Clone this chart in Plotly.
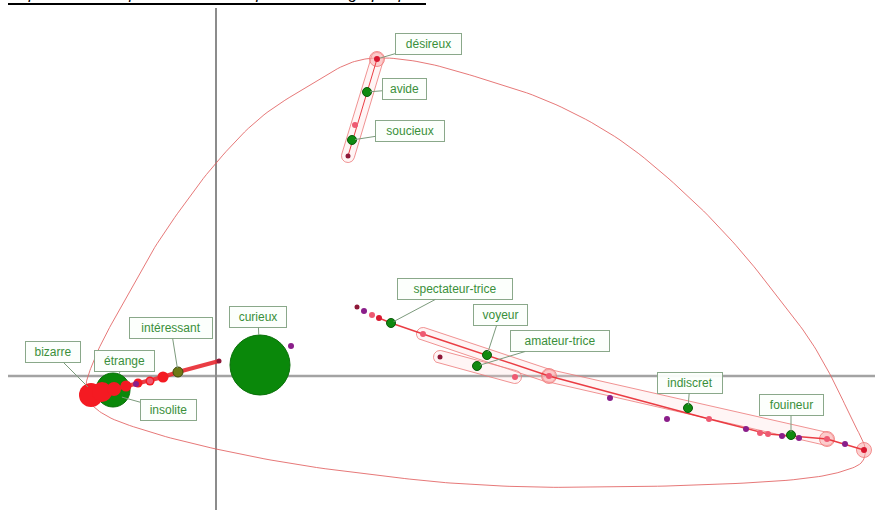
import numpy as np
import plotly.graph_objects as go

# ---- factor-map coordinates (axis units) ----
label_names = ["désireux", "avide", "soucieux", "spectateur-trice", "voyeur",
               "amateur-trice", "indiscret", "fouineur", "curieux",
               "intéressant", "étrange", "bizarre", "insolite"]
label_x = [1.61, 1.51, 1.36, 1.75, 2.71, 2.61, 4.72, 5.75, 0.44, -0.38, -1.03, -1.21, -0.98]
label_y = [3.17, 2.84, 2.36, 0.53, 0.21, 0.10, -0.32, -0.59, 0.11, 0.04, -0.14, -0.18, -0.20]

# small green synonym points
green_names = ["avide", "soucieux", "spectateur-trice", "voyeur", "amateur-trice",
               "indiscret", "fouineur"]
# weighted nodes
big_names = ["curieux", "étrange"]
big_size = [60, 34]

# unlabelled clique points
pink_x = [1.39, 1.56, 2.07, 2.99, 3.33, 4.93, 5.44, 5.52, 6.11, -0.66]
pink_y = [2.51, 0.61, 0.42, -0.01, 0.00, -0.43, -0.57, -0.58, -0.63, -0.05]
purple_x = [1.48, 3.94, 4.51, 5.30, 5.66, 5.83, 6.29, 0.75, -0.80]
purple_y = [0.65, -0.22, -0.43, -0.53, -0.60, -0.62, -0.68, 0.30, -0.08]
darkred_x = [1.32, 1.41, 2.24, 0.03]
darkred_y = [2.20, 0.69, 0.19, 0.15]
red_x = [1.61, 1.63, 6.48]
red_y = [3.17, 0.58, -0.74]
halo_x = [1.61, 3.33, 6.11, 6.48]
halo_y = [3.17, 0.00, -0.63, -0.74]

# chain bizarre -> intéressant
chain_x = [-1.25, -1.14, -1.02, -0.90, -0.78, -0.66, -0.53]
chain_y = [-0.19, -0.16, -0.13, -0.10, -0.07, -0.05, -0.01]
chain_size = [24, 20, 14, 11, 9, 9, 11]

# linking paths
link_left_x = [-1.25, -0.53, -0.38, 0.03]
link_left_y = [-0.19, -0.01, 0.04, 0.15]
link_right_x = [1.63, 1.75, 2.07, 2.71, 3.33, 4.93, 5.52, 6.11, 6.48]
link_right_y = [0.58, 0.53, 0.42, 0.21, 0.00, -0.43, -0.58, -0.63, -0.74]
link_top_x = [1.61, 1.32]
link_top_y = [3.17, 2.20]

# cliques (segment end points)
clique_x0 = [1.61, 2.07, 3.33, 2.24]
clique_y0 = [3.17, 0.42, 0.00, 0.19]
clique_x1 = [1.32, 3.33, 6.11, 2.99]
clique_y1 = [2.20, 0.00, -0.63, -0.01]

# outer envelope of the semantic space (closed loop, control points)
hull_x = [1.60, 2.04, 2.64, 3.34, 4.04, 4.74, 5.24, 5.64, 5.94, 6.17, 6.36, 6.49,
          6.46, 6.24, 5.84, 4.84, 3.84, 3.14, 2.34, 1.84, 0.84, 0.00, -0.66, -1.11,
          -1.28, -1.30, -1.24, -1.13, -0.91, -0.66, -0.36, 0.00, 0.44, 0.94, 1.34]
hull_y = [3.18, 3.14, 2.98, 2.74, 2.36, 1.78, 1.26, 0.76, 0.36, -0.04, -0.44, -0.72,
          -0.86, -0.96, -1.03, -1.09, -1.11, -1.11, -1.07, -1.02, -0.89, -0.73, -0.56, -0.39,
          -0.24, -0.09, 0.11, 0.36, 0.76, 1.21, 1.66, 2.13, 2.58, 2.91, 3.13]

# label box offsets (pixels from the point)
label_ax = [51, 37, 58, 64, 13, 83, 2, 0, -2, -7, 11, -42, 50]
label_ay = [-15, -3, -9, -34, -40, -25, -25, -30, -48, -44, -29, -42, 14]
label_standoff = [3, 3, 3, 3, 3, 3, 3, 3, 30, 4, 17, 10, 4]

W, H = 875, 510
X_RANGE = [-2.16, 6.59]
Y_RANGE = [-1.34, 3.76]

# approximate advance widths (px at 12px sans) used to size label boxes
_CW = {"f": 3.3, "i": 2.7, "l": 2.7, "t": 3.3, "r": 4.0, "-": 4.0, "m": 10.0,
       "c": 6.0, "s": 6.0, "v": 6.0, "x": 6.0, "y": 6.0, "z": 6.0}


def text_px(s):
    return sum(_CW.get(ch, 6.7) for ch in s)


def closed_catmull_rom(xs, ys, n=12, alpha=0.5):
    """Centripetal Catmull-Rom curve through a closed list of points."""
    P = np.column_stack([xs, ys]).astype(float)
    m = len(P)
    out = []
    for i in range(m):
        p0, p1, p2, p3 = P[(i - 1) % m], P[i], P[(i + 1) % m], P[(i + 2) % m]
        t0 = 0.0
        t1 = t0 + np.linalg.norm(p1 - p0) ** alpha
        t2 = t1 + np.linalg.norm(p2 - p1) ** alpha
        t3 = t2 + np.linalg.norm(p3 - p2) ** alpha
        for t in np.linspace(t1, t2, n, endpoint=False):
            a1 = (t1 - t) / (t1 - t0) * p0 + (t - t0) / (t1 - t0) * p1
            a2 = (t2 - t) / (t2 - t1) * p1 + (t - t1) / (t2 - t1) * p2
            a3 = (t3 - t) / (t3 - t2) * p2 + (t - t2) / (t3 - t2) * p3
            b1 = (t2 - t) / (t2 - t0) * a1 + (t - t0) / (t2 - t0) * a2
            b2 = (t3 - t) / (t3 - t1) * a2 + (t - t1) / (t3 - t1) * a3
            out.append((t2 - t) / (t2 - t1) * b1 + (t - t1) / (t2 - t1) * b2)
    out.append(out[0])
    out = np.array(out)
    return out[:, 0], out[:, 1]


def capsule(x0, y0, x1, y1, r, n=16):
    d = np.array([x1 - x0, y1 - y0], dtype=float)
    d /= np.hypot(*d)
    ang = np.arctan2(d[1], d[0])
    a1 = np.linspace(ang + np.pi / 2, ang - np.pi / 2, n)
    a0 = np.linspace(ang - np.pi / 2, ang - 3 * np.pi / 2, n)
    xs = np.concatenate([x1 + r * np.cos(a1), x0 + r * np.cos(a0)])
    ys = np.concatenate([y1 + r * np.sin(a1), y0 + r * np.sin(a0)])
    return np.append(xs, xs[0]), np.append(ys, ys[0])


fig = go.Figure()

# envelope
ex, ey = closed_catmull_rom(hull_x, hull_y)
fig.add_trace(go.Scatter(x=ex, y=ey, mode="lines",
                         line=dict(color="rgba(226,96,96,0.85)", width=1),
                         hoverinfo="skip"))

for cx0, cy0, cx1, cy1 in zip(clique_x0, clique_y0, clique_x1, clique_y1):
    cx, cy = capsule(cx0, cy0, cx1, cy1, 0.065)
    fig.add_trace(go.Scatter(x=cx, y=cy, mode="lines", fill="toself",
                             fillcolor="rgba(255,215,215,0.25)",
                             line=dict(color="rgba(236,120,120,0.8)", width=1),
                             hoverinfo="skip"))

# halos
fig.add_trace(go.Scatter(x=halo_x, y=halo_y, mode="markers",
                         marker=dict(size=15, color="rgba(250,170,170,0.55)", opacity=1,
                                     line=dict(color="rgba(240,120,120,0.8)", width=1)),
                         hoverinfo="skip"))

# big weighted nodes
bx = [label_x[label_names.index(n)] for n in big_names]
by = [label_y[label_names.index(n)] for n in big_names]
fig.add_trace(go.Scatter(x=bx, y=by, mode="markers",
                         marker=dict(size=big_size, color="#0a880a", opacity=1,
                                     line=dict(color="#087008", width=1)),
                         hoverinfo="skip"))

# links
for lx, ly, w in [(link_left_x, link_left_y, 4), (link_right_x, link_right_y, 1.4),
                  (link_top_x, link_top_y, 1)]:
    fig.add_trace(go.Scatter(x=lx, y=ly, mode="lines",
                             line=dict(color="rgba(232,40,48,0.9)", width=w),
                             hoverinfo="skip"))

# red chain from bizarre
fig.add_trace(go.Scatter(x=chain_x, y=chain_y, mode="markers",
                         marker=dict(size=chain_size, color="#f41a22", opacity=1,
                                     line=dict(width=0)),
                         hoverinfo="skip"))

# small clique points
fig.add_trace(go.Scatter(x=pink_x, y=pink_y, mode="markers",
                         marker=dict(size=6, color="#ee5a72"), hoverinfo="skip"))
fig.add_trace(go.Scatter(x=purple_x, y=purple_y, mode="markers",
                         marker=dict(size=6, color="#8a1e8a"), hoverinfo="skip"))
fig.add_trace(go.Scatter(x=darkred_x, y=darkred_y, mode="markers",
                         marker=dict(size=5, color="#8e1838"), hoverinfo="skip"))
fig.add_trace(go.Scatter(x=red_x, y=red_y, mode="markers",
                         marker=dict(size=6, color="#d81830"), hoverinfo="skip"))

# green synonyms
gx = [label_x[label_names.index(n)] for n in green_names]
gy = [label_y[label_names.index(n)] for n in green_names]
fig.add_trace(go.Scatter(x=gx, y=gy, mode="markers",
                         marker=dict(size=9, color="#108a10",
                                     line=dict(color="#0a5a0a", width=1)),
                         hoverinfo="skip"))
# intéressant
ix = label_names.index("intéressant")
fig.add_trace(go.Scatter(x=[label_x[ix]], y=[label_y[ix]], mode="markers",
                         marker=dict(size=10, color="#6e7a16",
                                     line=dict(color="#404a0a", width=1)),
                         hoverinfo="skip"))

# labels
for name, x, y, ax, ay, so in zip(label_names, label_x, label_y, label_ax, label_ay,
                                  label_standoff):
    fig.add_annotation(x=x, y=y, text=name, showarrow=True, ax=ax, ay=ay,
                       arrowhead=0, arrowwidth=1, arrowcolor="#7c9a7c", standoff=so,
                       width=round(1.3 * text_px(name)), align="center",
                       font=dict(family="Liberation Sans, Arial", size=12, color="#3a8f3a"),
                       bgcolor="rgba(252,255,252,0.95)", bordercolor="#8aa88a",
                       borderwidth=1, borderpad=3)

# axes through the origin
fig.add_shape(type="line", x0=-2.08, x1=X_RANGE[1], y0=0, y1=0,
              line=dict(color="#a3a3a3", width=2.5), layer="below")
fig.add_shape(type="line", x0=0, x1=0, y0=3.68, y1=Y_RANGE[0],
              line=dict(color="#8c8c8c", width=2), layer="below")

# title (partly above the page edge) and its underline
fig.add_annotation(xref="paper", yref="paper", x=8 / W, y=1, xanchor="left",
                   yanchor="bottom", yshift=-4, showarrow=False,
                   text="<i>Espace sémantique de curieux : représentation graphique</i>",
                   font=dict(family="Liberation Sans, Arial", size=16, color="#000"))
fig.add_shape(type="line", xref="paper", yref="paper", x0=8 / W, x1=426 / W,
              y0=1 - 4 / H, y1=1 - 4 / H, line=dict(color="#000", width=2))

fig.update_layout(
    width=W, height=H, margin=dict(l=0, r=0, t=0, b=0),
    paper_bgcolor="white", plot_bgcolor="white", showlegend=False,
    xaxis=dict(range=X_RANGE, visible=False, fixedrange=True),
    yaxis=dict(range=Y_RANGE, visible=False, fixedrange=True),
)

fig.write_html("out.html")
